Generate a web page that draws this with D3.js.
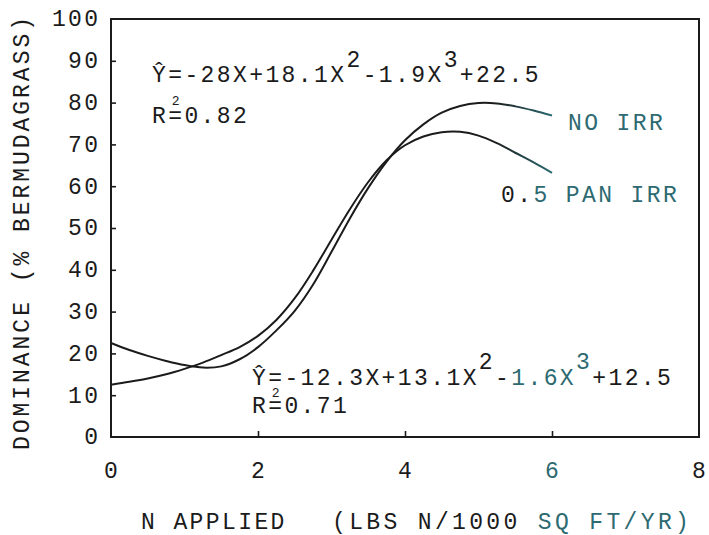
<!DOCTYPE html>
<html>
<head>
<meta charset="utf-8">
<script src="https://cdn.jsdelivr.net/npm/d3@7"></script>
<style>
  html, body { margin: 0; padding: 0; background: #fff; }
  svg { display: block; }
  text { font-family: "Liberation Mono", "DejaVu Sans Mono", monospace; }
</style>
</head>
<body>
<svg id="chart" width="709" height="535"></svg>
<script>
// N rate (lbs N / 1000 sq ft / yr)
const nApplied = [0, 0.25, 0.5, 0.75, 1, 1.25, 1.5, 1.75, 2, 2.25, 2.5, 2.75, 3,
                  3.25, 3.5, 3.75, 4, 4.25, 4.5, 4.75, 5, 5.25, 5.5, 5.75, 6];
// Bermudagrass dominance (%) — no irrigation
const noIrr = [22.5, 20.8, 19.4, 18.2, 17.2, 16.6, 16.9, 18.6, 21.5, 25.5, 30.2, 36.5, 44.3,
               52.3, 59.6, 65.9, 71.0, 74.8, 77.6, 79.2, 79.9, 79.8, 79.1, 78.1, 76.9];
// Bermudagrass dominance (%) — 0.5 pan irrigation
const panIrr = [12.5, 13.2, 14.0, 15.0, 16.3, 17.8, 19.6, 21.5, 24.2, 28.0, 33.2, 39.8, 47.2,
                54.5, 61.0, 66.2, 69.8, 71.9, 72.9, 73.0, 72.1, 70.3, 68.0, 65.7, 63.2];

const xTickValues = [0, 2, 4, 6, 8];
const yTickValues = [0, 10, 20, 30, 40, 50, 60, 70, 80, 90, 100];

const seriesLabels = ["NO IRR", "0.5 PAN IRR"];
const xTitleParts = ["N APPLIED", "(LBS N/1000 ", "SQ FT/YR)"];
const yTitle = "DOMINANCE  (% BERMUDAGRASS)";

const INK = "#1b1b1b";
const TEAL = "#2d6a71";
const FS = 23;          // plotter-style text size
const LS = 2.4;         // extra cell spacing of the plotter font
const SMALL = 13;       // size of the R-squared exponent

const svg = d3.select("#chart");
const x = d3.scaleLinear().domain([0, 8]).range([111, 699]);
const y = d3.scaleLinear().domain([0, 100]).range([437, 19]);

// ink fades to teal toward the right-hand ends of the curves
const defs = svg.append("defs");
const grad = defs.append("linearGradient")
  .attr("id", "curveInk").attr("gradientUnits", "userSpaceOnUse")
  .attr("x1", x(5.2)).attr("x2", x(6)).attr("y1", 0).attr("y2", 0);
grad.append("stop").attr("offset", 0).attr("stop-color", INK);
grad.append("stop").attr("offset", 1).attr("stop-color", TEAL);

// plot frame
svg.append("rect")
  .attr("x", x(0)).attr("y", y(100))
  .attr("width", x(8) - x(0)).attr("height", y(0) - y(100))
  .attr("fill", "none").attr("stroke", INK).attr("stroke-width", 2);

// inward tick marks
const xAxis = svg.append("g").attr("transform", `translate(0,${y(0)})`)
  .call(d3.axisBottom(x).tickValues([2, 4, 6]).tickSizeInner(-6).tickSizeOuter(0).tickFormat(""));
const yAxis = svg.append("g").attr("transform", `translate(${x(0)},0)`)
  .call(d3.axisLeft(y).tickValues(yTickValues.slice(1, -1)).tickSizeInner(-5).tickSizeOuter(0).tickFormat(""));
[xAxis, yAxis].forEach(g => {
  g.select(".domain").remove();
  g.selectAll(".tick line").attr("stroke", INK).attr("stroke-width", 1.6);
});

// tick labels
svg.append("g").selectAll("text").data(yTickValues).join("text")
  .attr("x", 100.5).attr("y", d => y(d) + 7.4)
  .attr("text-anchor", "end")
  .attr("font-size", FS).attr("letter-spacing", LS).attr("fill", INK)
  .text(d => d);

svg.append("g").selectAll("text").data(xTickValues).join("text")
  .attr("x", d => x(d) + LS / 2).attr("y", 478)
  .attr("text-anchor", "middle")
  .attr("font-size", FS).attr("letter-spacing", LS)
  .attr("fill", d => d === 6 ? TEAL : INK)
  .text(d => d);

// response curves
const line = d3.line()
  .x((d, i) => x(nApplied[i]))
  .y(d => y(d))
  .curve(d3.curveCatmullRom.alpha(0.5));

svg.append("g").selectAll("path").data([noIrr, panIrr]).join("path")
  .attr("d", line)
  .attr("fill", "none")
  .attr("stroke", "url(#curveInk)")
  .attr("stroke-width", 2)
  .attr("stroke-linejoin", "round");

// helper: a run of plotter text made of coloured / raised pieces
function plotterText(x0, y0, pieces) {
  const t = svg.append("text")
    .attr("x", x0).attr("y", y0)
    .attr("font-size", FS).attr("letter-spacing", LS).attr("fill", INK);
  pieces.forEach(p => {
    const ts = t.append("tspan")
      .attr("dy", p.dy || 0)
      .attr("fill", p.color || INK)
      .text(p.s);
    if (p.dx) ts.attr("dx", p.dx);
    if (p.x !== undefined) ts.attr("x", p.x);
    if (p.size) ts.attr("font-size", p.size);
    if (p.ls !== undefined) ts.attr("letter-spacing", p.ls);
  });
  return t;
}

// series labels
plotterText(568, 130, [{ s: seriesLabels[0], color: TEAL }]);
plotterText(501, 202, [{ s: "0.", color: INK }, { s: seriesLabels[1].slice(2), color: TEAL }]);

// R-squared line: small exponent tucked above the "=" cell
const smallAdv = SMALL * 0.6 + LS;
function rSquared(x0, y0, value, lift) {
  plotterText(x0, y0, [
    { s: "R" },
    { s: "2", size: SMALL, dy: -lift, dx: 3.5 },
    { s: "=" + value, dy: lift, dx: -(3.5 + smallAdv) }
  ]);
}

// regression equation, no irrigation
plotterText(152, 82, [
  { s: "Ŷ=-28X+18.1X" },
  { s: "2", dy: -15 },
  { s: "-1.9X", dy: 15 },
  { s: "3", dy: -15 },
  { s: "+22.5", dy: 15 }
]);
rSquared(152, 123, "0.82", 18);

// regression equation, 0.5 pan irrigation
plotterText(252, 385, [
  { s: "Ŷ=-12.3X+13.1X" },
  { s: "2", dy: -16 },
  { s: "-", dy: 16 },
  { s: "1.6X", color: TEAL },
  { s: "3", dy: -16, color: TEAL },
  { s: "+12.5", dy: 16 }
]);
rSquared(252, 413, "0.71", 16);

// axis titles
plotterText(141, 529, [
  { s: xTitleParts[0] },
  { s: xTitleParts[1], x: 332, ls: 3.35 },
  { s: xTitleParts[2], ls: 3.35, color: TEAL }
]);

svg.append("text")
  .attr("transform", "translate(28.5,233.5) rotate(-90)")
  .attr("text-anchor", "middle")
  .attr("font-size", FS).attr("fill", INK)
  .attr("textLength", 433).attr("lengthAdjust", "spacing")
  .text(yTitle);
</script>
</body>
</html>
